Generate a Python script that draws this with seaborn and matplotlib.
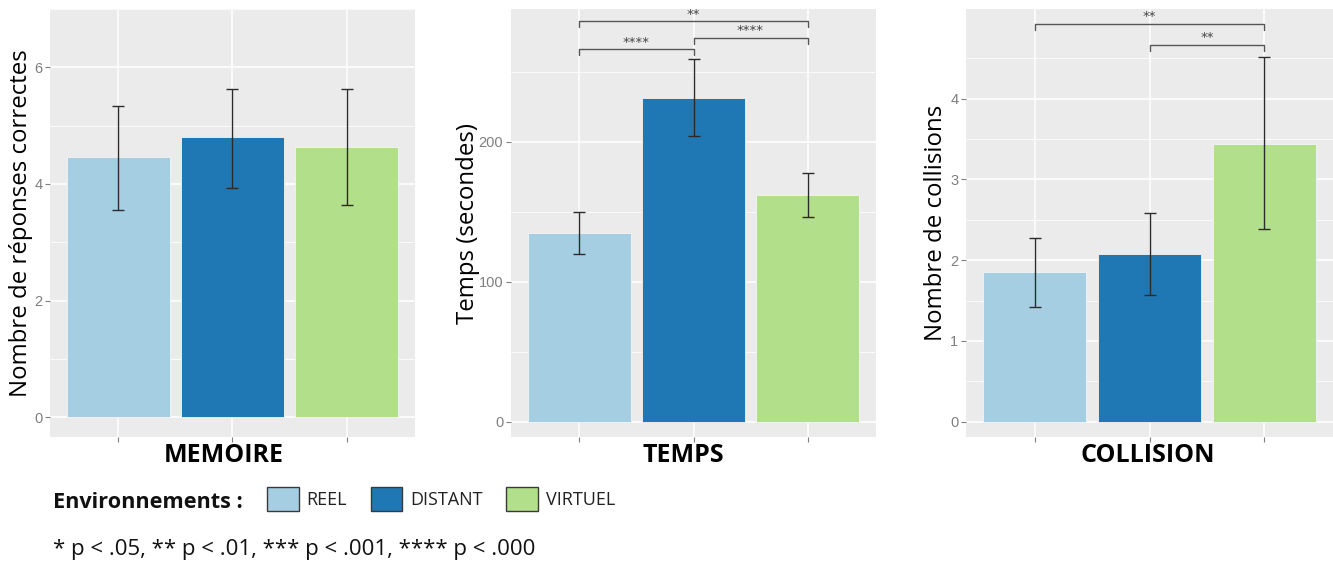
import numpy as np
import pandas as pd
import matplotlib
matplotlib.use("Agg")
import matplotlib.pyplot as plt
import seaborn as sns
from matplotlib.patches import Patch

# ---------------- data ----------------
environments = ["REEL", "DISTANT", "VIRTUEL"]
env_colors = ["#A6CEE3", "#1F78B4", "#B2DF8A"]

memoire_mean = [4.46, 4.80, 4.64]
memoire_low = [3.56, 3.93, 3.64]
memoire_high = [5.34, 5.63, 5.63]

temps_mean = [135, 231, 162]
temps_low = [120, 204, 146]
temps_high = [150, 259, 178]

collision_mean = [1.85, 2.07, 3.44]
collision_low = [1.42, 1.57, 2.38]
collision_high = [2.28, 2.58, 4.51]

memoire_ticks = [0, 2, 4, 6]
temps_ticks = [0, 100, 200]
collision_ticks = [0, 1, 2, 3, 4]

temps_pairs = [(0, 1), (1, 2), (0, 2)]
temps_sig_y = [266, 274, 286]
temps_sig = ["****", "****", "**"]

collision_pairs = [(0, 2), (1, 2)]
collision_sig_y = [4.93, 4.67]
collision_sig = ["**", "**"]

footnote = "* p < .05, ** p < .01, *** p < .001, **** p < .000"

# ---------------- style ----------------
sns.set_theme(style="darkgrid", rc={
    "axes.facecolor": "#EBEBEB",
    "grid.color": "white",
    "figure.facecolor": "white",
})
plt.rcParams["font.family"] = ["Open Sans", "DejaVu Sans"]

W, H = 1333, 562
fig = plt.figure(figsize=(W / 100, H / 100), dpi=100)


def px_axes(left, right, top, bottom):
    return fig.add_axes([left / W, 1 - bottom / H, (right - left) / W, (bottom - top) / H])


panels = [
    dict(rect=(50, 415, 9, 437), mean=memoire_mean, low=memoire_low, high=memoire_high,
         ticks=memoire_ticks, ylim=(-0.34, 6.91), ylabel="Nombre de réponses correctes",
         title="MEMOIRE", ylab_x=21, title_x=224, pairs=[], sig_y=[], sig=[], tip=0),
    dict(rect=(511, 876, 9, 437), mean=temps_mean, low=temps_low, high=temps_high,
         ticks=temps_ticks, ylim=(-10.9, 294.8), ylabel="Temps (secondes)",
         title="TEMPS", ylab_x=468, title_x=683, pairs=temps_pairs, sig_y=temps_sig_y,
         sig=temps_sig, tip=4.3),
    dict(rect=(966, 1333, 9, 437), mean=collision_mean, low=collision_low, high=collision_high,
         ticks=collision_ticks, ylim=(-0.19, 5.11), ylabel="Nombre de collisions",
         title="COLLISION", ylab_x=936, title_x=1148, pairs=collision_pairs,
         sig_y=collision_sig_y, sig=collision_sig, tip=0.075),
]

for p in panels:
    left, right, top, bottom = p["rect"]
    ax = px_axes(left, right, top, bottom)
    df = pd.DataFrame({"env": environments, "val": p["mean"]})
    sns.barplot(data=df, x="env", y="val", hue="env", order=environments,
                hue_order=environments, palette=env_colors, width=0.9,
                errorbar=None, legend=False, saturation=1, ax=ax,
                edgecolor="#f4f4f4", linewidth=0.6)
    mean = np.array(p["mean"], dtype=float)
    low = np.array(p["low"], dtype=float)
    high = np.array(p["high"], dtype=float)
    xs = np.arange(len(environments))
    ax.errorbar(xs, mean, yerr=[mean - low, high - mean], fmt="none",
                ecolor="#2b2b2b", elinewidth=1.0, capsize=4.5, capthick=1.0, zorder=5)

    ax.set_xlim(-0.6, 2.6)
    ax.set_ylim(*p["ylim"])
    ax.set_yticks(p["ticks"])
    ax.set_yticklabels([str(t) for t in p["ticks"]], family="Liberation Sans",
                       fontsize=10.5, color="#7f7f7f")
    minor = [(a + b) / 2 for a, b in zip(p["ticks"][:-1], p["ticks"][1:])]
    minor.append(p["ticks"][-1] + (p["ticks"][1] - p["ticks"][0]) / 2)
    ax.set_yticks(minor, minor=True)
    ax.set_xticks(xs)
    ax.set_xticklabels([])
    ax.grid(which="major", color="white", linewidth=1.1)
    ax.grid(which="minor", axis="y", color="white", linewidth=0.55)
    ax.tick_params(axis="both", which="major", length=3.5, width=0.8, color="#7f7f7f",
                   bottom=True, left=True, pad=2)
    ax.tick_params(axis="both", which="minor", length=0, bottom=False, left=False)
    for s in ax.spines.values():
        s.set_visible(False)

    ax.set_ylabel(p["ylabel"], fontsize=17.3, color="black")
    ax.yaxis.label.set_va("center")
    ax.yaxis.set_label_coords((p["ylab_x"] - left) / (right - left), 0.5)
    ax.set_xlabel(p["title"], fontsize=18, fontweight="bold", color="black")
    ax.xaxis.label.set_va("center")
    ax.xaxis.set_label_coords((p["title_x"] - left) / (right - left), (bottom - 456) / (bottom - top))

    for (a, b), yv, lab in zip(p["pairs"], p["sig_y"], p["sig"]):
        ax.plot([xs[a], xs[a], xs[b], xs[b]], [yv - p["tip"], yv, yv, yv - p["tip"]],
                color="#555555", linewidth=1.0, zorder=6, clip_on=False)
        ax.annotate(lab, xy=((xs[a] + xs[b]) / 2, yv), xytext=(0, 0.5),
                    textcoords="offset points", ha="center", va="bottom",
                    fontsize=9.5, color="#444444", family="DejaVu Sans")

# ---------------- legend ----------------
fig.text(53 / W, 1 - 503 / H, "Environnements :", fontsize=15.6, fontweight="bold",
         ha="left", va="center", color="#111111")
handles = [Patch(facecolor=c, edgecolor="#3a3a3a", linewidth=1.0, label=e)
           for c, e in zip(env_colors, environments)]
fig.legend(handles=handles, loc="upper left", bbox_to_anchor=(267 / W, 1 - 487 / H),
           ncol=3, frameon=False, fontsize=13, handlelength=1.75, handleheight=1.7,
           handletextpad=0.45, columnspacing=1.3, borderpad=0, borderaxespad=0,
           labelcolor="#222222")

fig.text(53 / W, 1 - 549 / H, footnote, fontsize=16, ha="left", va="center", color="#111111")

fig.savefig("out.png", dpi=100)
